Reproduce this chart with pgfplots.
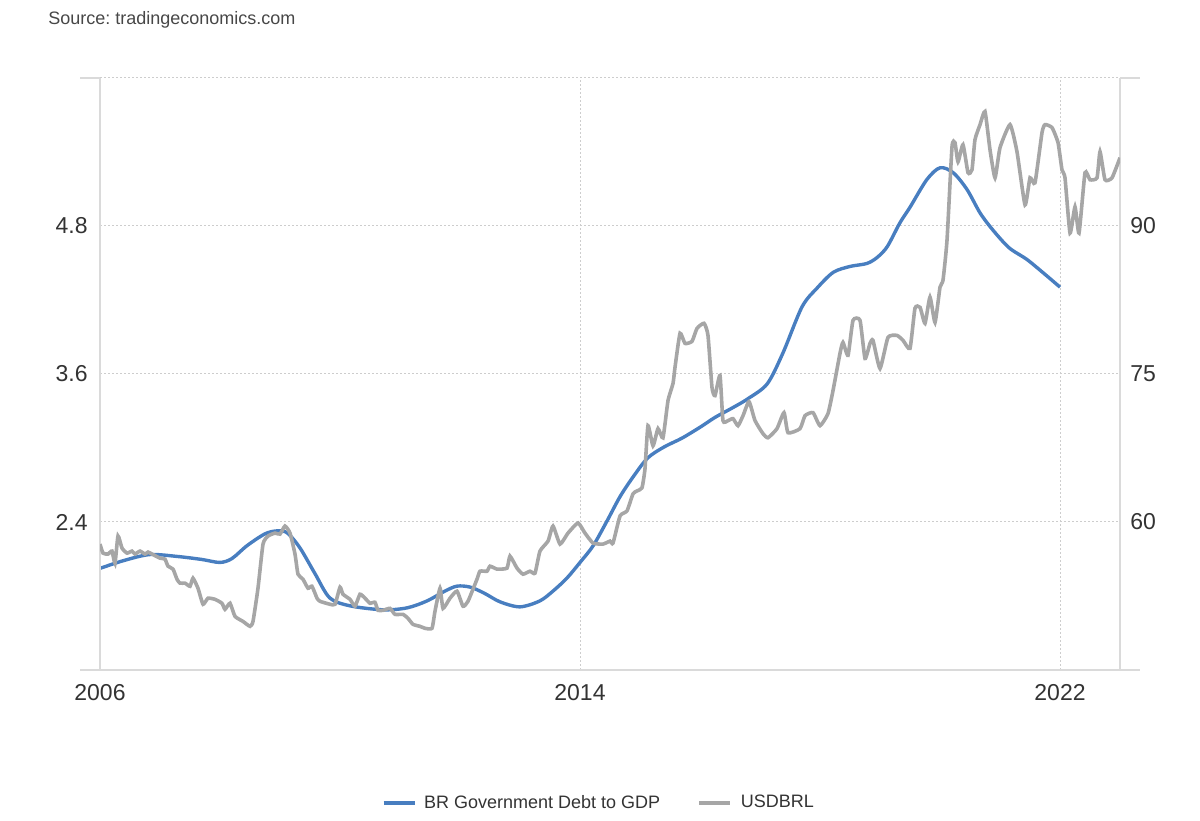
\documentclass[border=0pt]{standalone}
\usepackage{fontspec}
\setmainfont{Liberation Sans}
\usepackage{pgfplots}
\usepackage{pgfplotstable}
\pgfplotsset{compat=1.18}
\frenchspacing
\definecolor{debtblue}{RGB}{72,126,192}
\definecolor{fxgray}{RGB}{166,166,166}
\definecolor{axgray}{RGB}{218,218,218}
\definecolor{gridgray}{RGB}{205,205,205}
\definecolor{txt}{RGB}{51,51,51}

\pgfplotstableread{
year val
2006.00 55.3
2006.40 56.1
2006.83 56.7
2007.30 56.5
2007.70 56.2
2008.00 55.9
2008.20 56.3
2008.45 57.6
2008.75 58.8
2008.95 59.1
2009.12 58.9
2009.33 57.4
2009.58 54.8
2009.83 52.3
2010.17 51.5
2010.72 51.1
2011.12 51.3
2011.45 52.0
2011.75 53.0
2011.95 53.5
2012.17 53.4
2012.40 52.8
2012.67 51.9
2013.00 51.4
2013.33 52.0
2013.55 53.0
2013.78 54.3
2014.00 55.9
2014.22 57.6
2014.45 60.1
2014.67 62.6
2014.90 64.7
2015.13 66.5
2015.40 67.6
2015.70 68.5
2016.00 69.6
2016.25 70.6
2016.55 71.6
2016.80 72.5
2017.12 74.0
2017.38 77.1
2017.70 81.8
2017.95 83.7
2018.22 85.3
2018.50 85.9
2018.78 86.2
2018.95 86.8
2019.12 87.9
2019.33 90.3
2019.50 91.9
2019.78 94.7
2020.00 95.9
2020.22 95.4
2020.45 93.7
2020.67 91.3
2020.88 89.6
2021.15 87.8
2021.45 86.6
2021.75 85.1
2022.00 83.8
}\debt

\pgfplotstableread{
year val
2006.000 2.221
2006.050 2.148
2006.133 2.140
2006.200 2.164
2006.250 2.066
2006.300 2.286
2006.367 2.188
2006.450 2.148
2006.533 2.164
2006.583 2.140
2006.667 2.164
2006.750 2.140
2006.800 2.156
2006.867 2.140
2007.000 2.107
2007.083 2.099
2007.133 2.042
2007.217 2.018
2007.283 1.936
2007.333 1.904
2007.417 1.904
2007.500 1.879
2007.550 1.944
2007.633 1.863
2007.717 1.733
2007.800 1.782
2007.917 1.773
2008.033 1.741
2008.083 1.692
2008.167 1.741
2008.250 1.635
2008.383 1.594
2008.500 1.554
2008.550 1.594
2008.633 1.863
2008.717 2.221
2008.800 2.286
2008.917 2.310
2009.000 2.302
2009.083 2.367
2009.167 2.310
2009.250 2.140
2009.300 1.977
2009.383 1.936
2009.467 1.863
2009.533 1.879
2009.617 1.782
2009.667 1.757
2009.833 1.733
2009.917 1.733
2010.000 1.871
2010.050 1.814
2010.167 1.773
2010.250 1.717
2010.333 1.814
2010.417 1.782
2010.500 1.741
2010.583 1.749
2010.633 1.684
2010.717 1.684
2010.833 1.700
2010.917 1.651
2011.050 1.651
2011.133 1.619
2011.217 1.570
2011.333 1.554
2011.417 1.538
2011.533 1.538
2011.583 1.676
2011.667 1.863
2011.717 1.700
2011.833 1.782
2011.950 1.839
2012.050 1.717
2012.133 1.757
2012.283 1.936
2012.333 2.001
2012.450 2.001
2012.500 2.042
2012.617 2.018
2012.783 2.026
2012.833 2.123
2012.950 2.026
2013.050 1.977
2013.167 2.001
2013.250 1.985
2013.333 2.164
2013.467 2.245
2013.550 2.367
2013.667 2.221
2013.800 2.310
2013.967 2.392
2014.083 2.310
2014.217 2.229
2014.383 2.221
2014.500 2.245
2014.550 2.229
2014.667 2.449
2014.783 2.490
2014.883 2.628
2014.950 2.652
2015.033 2.677
2015.083 2.831
2015.133 3.181
2015.217 3.018
2015.300 3.157
2015.383 3.083
2015.467 3.385
2015.550 3.523
2015.583 3.653
2015.667 3.930
2015.750 3.848
2015.867 3.865
2015.950 3.970
2016.067 4.011
2016.133 3.913
2016.200 3.490
2016.250 3.425
2016.333 3.588
2016.383 3.222
2016.467 3.222
2016.550 3.238
2016.633 3.181
2016.717 3.262
2016.817 3.376
2016.917 3.222
2017.050 3.116
2017.133 3.083
2017.283 3.157
2017.400 3.287
2017.467 3.124
2017.667 3.157
2017.750 3.262
2017.883 3.287
2018.000 3.181
2018.133 3.279
2018.217 3.466
2018.333 3.767
2018.383 3.856
2018.467 3.751
2018.550 4.035
2018.667 4.035
2018.750 3.726
2018.833 3.848
2018.883 3.873
2019.000 3.645
2019.133 3.897
2019.283 3.913
2019.383 3.873
2019.500 3.808
2019.583 4.133
2019.667 4.141
2019.750 4.011
2019.833 4.223
2019.917 4.019
2020.000 4.304
2020.050 4.361
2020.117 4.686
2020.200 5.443
2020.250 5.476
2020.300 5.321
2020.383 5.459
2020.467 5.232
2020.533 5.256
2020.583 5.500
2020.667 5.622
2020.750 5.728
2020.833 5.419
2020.917 5.191
2021.000 5.435
2021.167 5.622
2021.283 5.402
2021.417 4.971
2021.500 5.191
2021.583 5.150
2021.700 5.557
2021.750 5.622
2021.867 5.598
2021.967 5.476
2022.033 5.256
2022.083 5.191
2022.167 4.743
2022.250 4.955
2022.317 4.743
2022.417 5.232
2022.500 5.175
2022.617 5.191
2022.667 5.402
2022.750 5.175
2022.867 5.191
2023.000 5.354
}\fx

\begin{document}
\begin{tikzpicture}
\useasboundingbox (0,0) rectangle (600pt,410pt);
\node[anchor=base west, inner sep=0pt, font=\fontsize{9}{11}\selectfont, text=txt!90] at (24pt,397.5pt) {Source: tradingeconomics.com};
% right axis: debt to GDP
\begin{axis}[
  at={(50pt,75pt)}, anchor=south west, scale only axis,
  width=510pt, height=296pt,
  xmin=2006, xmax=2023, ymin=45, ymax=105,
  axis x line*=bottom, axis y line*=right,
  axis line style={axgray, line width=0.6pt, -},
  xtick={2006,2014,2022}, xticklabels={2006,2014,2022},
  ytick={60,75,90,105}, yticklabels={60,75,90,},
  major tick length=0pt,
  grid=major,
  major grid style={gridgray, line width=0.5pt, dash pattern=on 1pt off 1pt},
  tick label style={font=\fontsize{11.5}{13}\selectfont, text=txt},
  /pgf/number format/assume math mode=true,
  xticklabel style={anchor=center, yshift=-11.5pt, inner sep=0pt},
  yticklabel style={anchor=west, xshift=5pt, inner sep=0pt},
]
\addplot[debtblue, line width=1.7pt, smooth] table[x=year,y=val]{\debt};
\end{axis}
% left axis: USDBRL
\begin{axis}[
  at={(50pt,75pt)}, anchor=south west, scale only axis,
  width=510pt, height=296pt,
  xmin=2006, xmax=2023, ymin=1.2, ymax=6.0,
  axis x line=none, axis y line*=left,
  axis line style={axgray, line width=0.6pt, -},
  ytick={2.4,3.6,4.8},
  yticklabel style={/pgf/number format/fixed, /pgf/number format/precision=1, /pgf/number format/fixed zerofill},
  major tick length=0pt,
  tick label style={font=\fontsize{11.5}{13}\selectfont, text=txt},
  /pgf/number format/assume math mode=true,
  yticklabel style={anchor=east, xshift=-6pt, inner sep=0pt},
  legend style={at={(axis description cs:0.49,-0.2247)}, anchor=center, draw=none, fill=none,
    font=\fontsize{9}{11}\selectfont, text=txt, legend columns=2,
    /tikz/every even column/.append style={column sep=16.5pt}},
  legend image code/.code={\draw[#1, line width=2pt] (0pt,0pt) -- (15.5pt,0pt); \path (18pt,0pt);},
]
\addlegendimage{debtblue}
\addlegendentry{BR Government Debt to GDP}
\addplot[fxgray, line width=1.8pt, smooth, tension=0.3] table[x=year,y=val]{\fx};
\addlegendentry{USDBRL}
\end{axis}
\draw[axgray, line width=0.6pt] (40pt,371pt) -- (50pt,371pt);
\draw[axgray, line width=0.6pt] (40pt,75pt) -- (50pt,75pt);
\draw[axgray, line width=0.6pt] (560pt,371pt) -- (570pt,371pt);
\draw[axgray, line width=0.6pt] (560pt,75pt) -- (570pt,75pt);
\end{tikzpicture}
\end{document}
